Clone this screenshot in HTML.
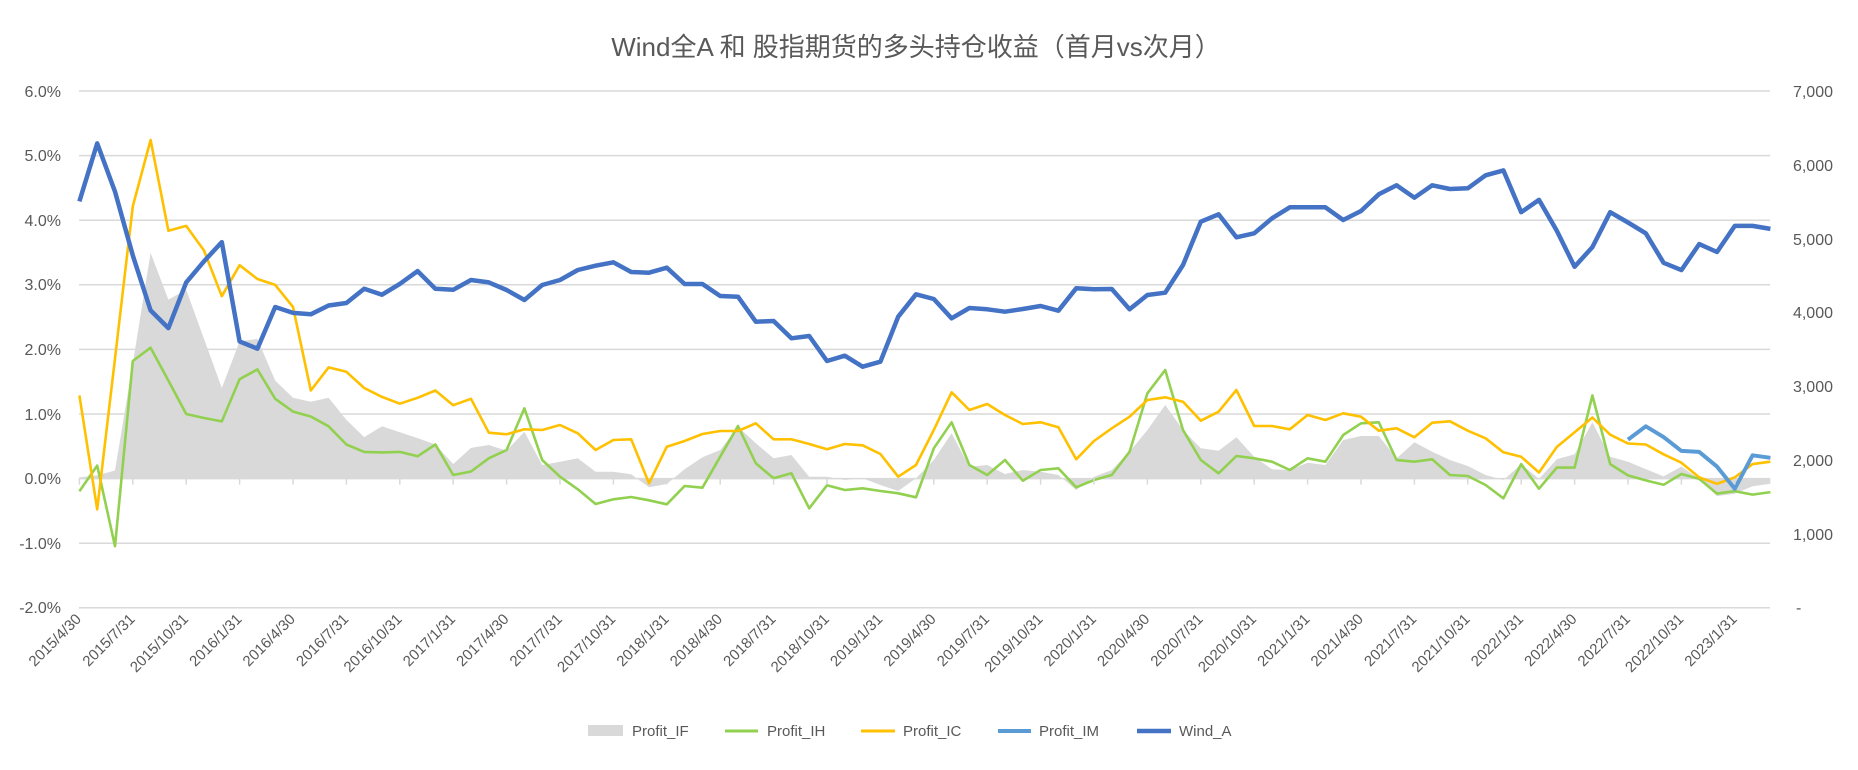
<!DOCTYPE html>
<html><head><meta charset="utf-8">
<style>
html,body{margin:0;padding:0;background:#fff;}
svg{display:block;}
text{font-family:"Liberation Sans","Noto Sans CJK SC",sans-serif;fill:#595959;}
</style></head>
<body>
<svg id="c" width="1858" height="770" viewBox="0 0 1858 770" xmlns="http://www.w3.org/2000/svg">
<text x="916" y="56" font-size="26" text-anchor="middle">Wind全A 和 股指期货的多头持仓收益（首月vs次月）</text>
<g id="grid" stroke="#D9D9D9" stroke-width="1.5">
<line x1="79" x2="1770" y1="91" y2="91"/>
<line x1="79" x2="1770" y1="155.6" y2="155.6"/>
<line x1="79" x2="1770" y1="220.2" y2="220.2"/>
<line x1="79" x2="1770" y1="284.8" y2="284.8"/>
<line x1="79" x2="1770" y1="349.4" y2="349.4"/>
<line x1="79" x2="1770" y1="414" y2="414"/>
<line x1="79" x2="1770" y1="478.6" y2="478.6"/>
<line x1="79" x2="1770" y1="543.2" y2="543.2"/>
<line x1="79" x2="1770" y1="607.8" y2="607.8"/>
</g>
<g font-size="16" text-anchor="end">
<text x="61" y="97">6.0%</text>
<text x="61" y="161">5.0%</text>
<text x="61" y="226">4.0%</text>
<text x="61" y="290">3.0%</text>
<text x="61" y="355">2.0%</text>
<text x="61" y="420">1.0%</text>
<text x="61" y="484">0.0%</text>
<text x="61" y="549">-1.0%</text>
<text x="61" y="613">-2.0%</text>
</g>
<g font-size="16" text-anchor="end">
<text x="1833" y="97">7,000</text>
<text x="1833" y="171">6,000</text>
<text x="1833" y="245">5,000</text>
<text x="1833" y="318">4,000</text>
<text x="1833" y="392">3,000</text>
<text x="1833" y="466">2,000</text>
<text x="1833" y="540">1,000</text>
<text x="1796" y="613" text-anchor="start">-</text>
</g>
<g id="series"></g>
<g id="ticks" stroke="#D9D9D9" stroke-width="1.5"></g>
<g font-size="15" text-anchor="end" id="xl">
<text transform="translate(82,620) rotate(-45)">2015/4/30</text>
<text transform="translate(135.8,620) rotate(-45)">2015/7/31</text>
<text transform="translate(189.2,620) rotate(-45)">2015/10/31</text>
<text transform="translate(242.6,620) rotate(-45)">2016/1/31</text>
<text transform="translate(296,620) rotate(-45)">2016/4/30</text>
<text transform="translate(349.4,620) rotate(-45)">2016/7/31</text>
<text transform="translate(402.8,620) rotate(-45)">2016/10/31</text>
<text transform="translate(456.2,620) rotate(-45)">2017/1/31</text>
<text transform="translate(509.6,620) rotate(-45)">2017/4/30</text>
<text transform="translate(563,620) rotate(-45)">2017/7/31</text>
<text transform="translate(616.4,620) rotate(-45)">2017/10/31</text>
<text transform="translate(669.8,620) rotate(-45)">2018/1/31</text>
<text transform="translate(723.2,620) rotate(-45)">2018/4/30</text>
<text transform="translate(776.6,620) rotate(-45)">2018/7/31</text>
<text transform="translate(830,620) rotate(-45)">2018/10/31</text>
<text transform="translate(883.4,620) rotate(-45)">2019/1/31</text>
<text transform="translate(936.8,620) rotate(-45)">2019/4/30</text>
<text transform="translate(990.2,620) rotate(-45)">2019/7/31</text>
<text transform="translate(1043.6,620) rotate(-45)">2019/10/31</text>
<text transform="translate(1097,620) rotate(-45)">2020/1/31</text>
<text transform="translate(1150.4,620) rotate(-45)">2020/4/30</text>
<text transform="translate(1203.8,620) rotate(-45)">2020/7/31</text>
<text transform="translate(1257.2,620) rotate(-45)">2020/10/31</text>
<text transform="translate(1310.6,620) rotate(-45)">2021/1/31</text>
<text transform="translate(1364,620) rotate(-45)">2021/4/30</text>
<text transform="translate(1417.4,620) rotate(-45)">2021/7/31</text>
<text transform="translate(1470.8,620) rotate(-45)">2021/10/31</text>
<text transform="translate(1524.2,620) rotate(-45)">2022/1/31</text>
<text transform="translate(1577.6,620) rotate(-45)">2022/4/30</text>
<text transform="translate(1631,620) rotate(-45)">2022/7/31</text>
<text transform="translate(1684.4,620) rotate(-45)">2022/10/31</text>
<text transform="translate(1737.8,620) rotate(-45)">2023/1/31</text>
</g>
<g font-size="15">
<rect x="588" y="725" width="35" height="11" fill="#D9D9D9"/>
<text x="632" y="736">Profit_IF</text>
<line x1="725" x2="758" y1="731" y2="731" stroke="#92D050" stroke-width="3"/>
<text x="767" y="736">Profit_IH</text>
<line x1="861" x2="895" y1="731" y2="731" stroke="#FFC000" stroke-width="3"/>
<text x="903" y="736">Profit_IC</text>
<line x1="998" x2="1031" y1="731" y2="731" stroke="#5B9BD5" stroke-width="4"/>
<text x="1039" y="736">Profit_IM</text>
<line x1="1137" x2="1171" y1="731" y2="731" stroke="#4472C4" stroke-width="4.5"/>
<text x="1179" y="736">Wind_A</text>
</g>
</svg>
<script>
(function(){
var A=function(a){return a.map(function(v){return v/2.036;});};
var B=function(a){return a.map(function(v){return 100+v/3;});};
var C=function(a){return a.map(function(v){return 380+v/3;});};
var blue=[].concat(
A([410,292,390,520,632,668,575,532,493,695,710,625,637,640,622,617,588,600,578,552,588,590,570,575]),
B([570,600,555,540,510,497,487,516,518,503,552,552,588,590,665,663,715,708,783,767,800,785,650,583,597,655,624]),
B([628,635,627,618,632,565,568,567,628,585,578,495,365,343,412,400,355,322,322,322,360,333,283,256,293,256,267,265,226]),
A([347,432,407,470,543,503,432,453,475,535,550,497,513,460,460,466]));
var ic=[].concat(
A([805,1037,730,420,285,470,460,510,603,540,568,580,625,795,748,757,790,808,822,810,795,825,812]),
C([158,163,148,150,135,160,210,180,178,310,200,183,162,153,153,130,178,178,192,208,192,196,222,290,255,150,37,90,72]),
C([105,132,127,142,238,183,145,110,60,52,65,122,95,30,138,138,148,105,120,100,110,152,145,172,128,124,152,175,217]),
A([930,962,910,880,850,885,903,905,925,942,972,985,972,945,940]));
var ih=[].concat(
A([1000,948,1112,735,708,775,843,851,858,772,752,812,838,848,868,905,920,921,920,929,905,967,960]),
C([235,210,85,240,290,328,372,358,351,361,373,318,323,230,138,250,295,280,385,316,330,325,333,340,352,205,127,255,285]),
C([240,302,270,265,322,300,285,215,40,-30,150,240,280,228,235,245,270,235,245,165,130,127,240,245,238,285,288,315,355]),
A([945,995,952,952,805,945,968,978,987,965,975,1005,1000,1007,1002]));
var gf=[].concat(
A([972,968,958,740,515,610,590,690,790,695,690,775,810,818,810,855,890,868,880,892,905,945,912]),
C([195,212,155,255,245,235,275,275,283,322,312,268,232,210,140,190,235,225,290,290,300,295,315,333,295,240,160,260,255]),
C([282,270,275,285,330,290,270,215,150,75,150,205,212,172,230,268,270,248,255,180,168,168,235,187,215,240,258,285,300]),
A([945,975,935,925,860,930,940,955,970,950,975,1010,1005,990,985]));
var im=A([895,868,890,918,920,950,995,927,932]);
function X(i){return 79.4+17.8*i;}
function path(arr,off){var s='';for(var i=0;i<arr.length;i++){s+=(i?'L':'M')+X(i+(off||0)).toFixed(1)+' '+arr[i].toFixed(1);}return s;}
var ns='http://www.w3.org/2000/svg';
var g=document.getElementById('series');
function add(tag,attrs){var e=document.createElementNS(ns,tag);for(var k in attrs)e.setAttribute(k,attrs[k]);g.appendChild(e);}
var Z=478.6;
var ap='M'+X(0)+' '+Z+' '+path(gf).replace(/^M/,'L')+' L'+X(gf.length-1).toFixed(1)+' '+Z+' Z';
add('path',{d:ap,fill:'#D9D9D9'});
add('path',{d:path(ih),fill:'none',stroke:'#92D050','stroke-width':2.6,'stroke-linejoin':'round'});
add('path',{d:path(ic),fill:'none',stroke:'#FFC000','stroke-width':2.6,'stroke-linejoin':'round'});
add('path',{d:path(im,87),fill:'none',stroke:'#5B9BD5','stroke-width':4,'stroke-linejoin':'round'});
add('path',{d:path(blue),fill:'none',stroke:'#4472C4','stroke-width':4.5,'stroke-linejoin':'round'});
var t=document.getElementById('ticks');
for(var k=0;k<=31;k++){var l=document.createElementNS(ns,'line');var x=X(3*k);l.setAttribute('x1',x);l.setAttribute('x2',x);l.setAttribute('y1',Z);l.setAttribute('y2',Z+6);t.appendChild(l);}
})();
</script>
</body></html>
